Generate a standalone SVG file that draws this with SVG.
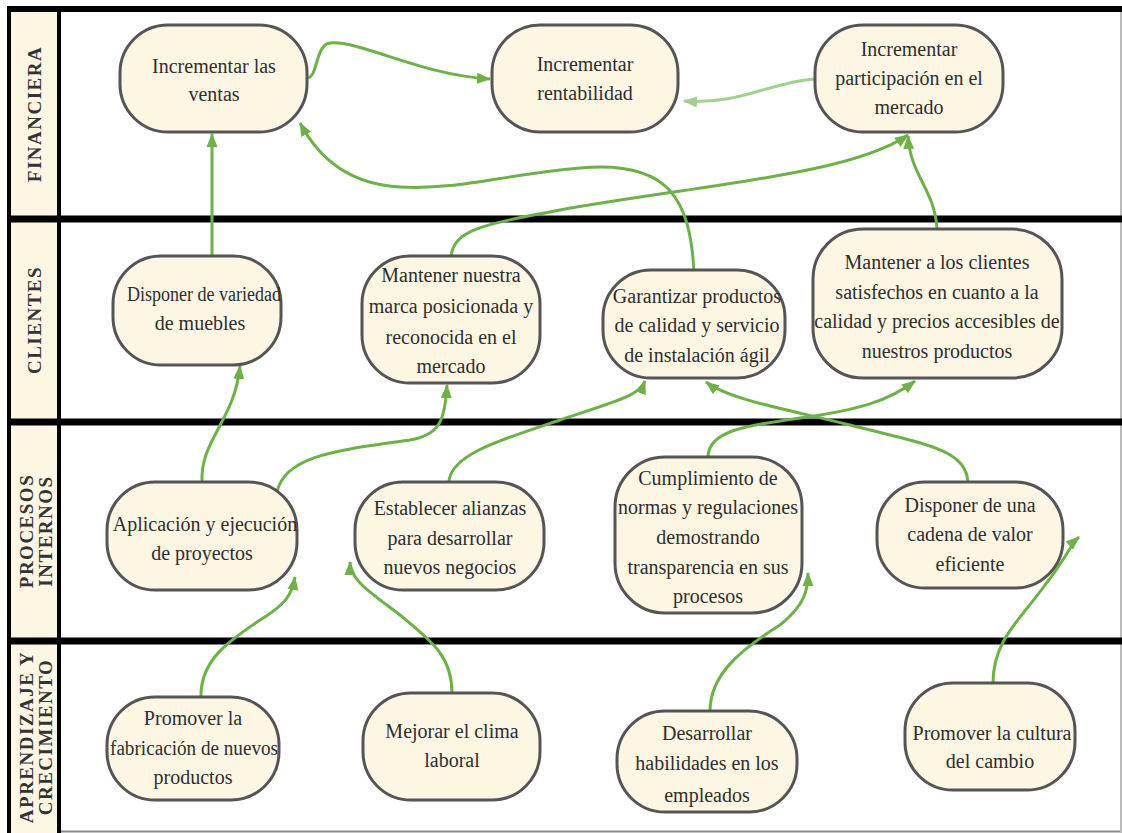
<svg xmlns="http://www.w3.org/2000/svg" width="1122" height="833" viewBox="0 0 1122 833">
<style>
.node rect{fill:#fcf6e3;stroke:#555;stroke-width:3}
.node text{font-family:"Liberation Serif",serif;font-size:20px;fill:#2e2e2e;text-anchor:middle}
.lbl{font-family:"Liberation Serif",serif;font-size:19px;font-weight:bold;fill:#333;text-anchor:middle;letter-spacing:1.5px}
.frame{stroke:#000;fill:none}
.c{fill:none;stroke:#6cb245;stroke-width:3}
.cl{fill:none;stroke:#9fd28a;stroke-width:3}
</style>
<defs>
<marker id="ah" markerUnits="userSpaceOnUse" markerWidth="16" markerHeight="14" refX="13" refY="7" orient="auto"><path d="M0,1.5 L14,7 L0,12.5 Z" fill="#6cb245"/></marker>
<marker id="ahl" markerUnits="userSpaceOnUse" markerWidth="16" markerHeight="14" refX="13" refY="7" orient="auto"><path d="M0,1.5 L14,7 L0,12.5 Z" fill="#9fd28a"/></marker>
</defs>
<rect x="0" y="0" width="1122" height="833" fill="#fff"/>
<g id="frame">
<rect x="10" y="9" width="49" height="824" fill="#fdf6e3"/>
<line x1="59" y1="831.5" x2="1122" y2="831.5" stroke="#888" stroke-width="2"/>
<line x1="1121" y1="9" x2="1121" y2="833" stroke="#bbb" stroke-width="2"/>
<line class="frame" x1="7" y1="9" x2="1122" y2="9" stroke-width="6"/>
<line class="frame" x1="9" y1="6" x2="9" y2="833" stroke-width="4"/>
<line class="frame" x1="59" y1="6" x2="59" y2="833" stroke-width="4"/>
<line class="frame" x1="7" y1="219" x2="1122" y2="219" stroke-width="7"/>
<line class="frame" x1="7" y1="422" x2="1122" y2="422" stroke-width="7"/>
<line class="frame" x1="7" y1="641" x2="1122" y2="641" stroke-width="7"/>
</g>
<g id="lane-labels">
<text class="lbl" transform="translate(41,114) rotate(-90)">FINANCIERA</text>
<text class="lbl" transform="translate(41,320) rotate(-90)">CLIENTES</text>
<text class="lbl" transform="translate(33,531) rotate(-90)">PROCESOS</text>
<text class="lbl" transform="translate(52,531) rotate(-90)">INTERNOS</text>
<text class="lbl" transform="translate(33,737) rotate(-90)">APRENDIZAJE Y</text>
<text class="lbl" transform="translate(52,737) rotate(-90)">CRECIMIENTO</text>
</g>
<g id="connectors">
<path class="c" marker-end="url(#ah)" d="M307,78 C318,78 315,45 330,43 C360,40 420,75 490,79"/>
<path class="cl" marker-end="url(#ahl)" d="M815,79 C770,82 740,105 684,101"/>
<path class="c" marker-end="url(#ah)" d="M694,272 C690,200 670,160 580,168 C500,175 460,190 400,187 C350,184 320,160 300,123"/>
<path class="c" marker-end="url(#ah)" d="M451,256 C455,230 480,225 560,210 C700,185 850,175 908,135"/>
<path class="c" marker-end="url(#ah)" d="M937,229 C935,190 910,175 908,136"/>
<path class="c" marker-end="url(#ah)" d="M212,256 L212,134"/>
<path class="c" marker-end="url(#ah)" d="M202,482 C200,440 235,420 240,366"/>
<path class="c" marker-end="url(#ah)" d="M277,492 C285,455 340,450 410,440 C440,435 445,420 447,385"/>
<path class="c" marker-end="url(#ah)" d="M449,482 C450,455 500,440 560,420 C620,400 640,395 645,381"/>
<path class="c" marker-end="url(#ah)" d="M708,457 C708,430 750,425 800,418 C860,410 890,400 915,381"/>
<path class="c" marker-end="url(#ah)" d="M968,482 C965,450 930,445 850,425 C790,410 730,400 706,382"/>
<path class="c" marker-end="url(#ah)" d="M201,697 C200,660 230,640 260,620 C285,605 292,595 295,577"/>
<path class="c" marker-end="url(#ah)" d="M452,693 C452,655 430,640 400,615 C370,592 350,580 350,562"/>
<path class="c" marker-end="url(#ah)" d="M710,711 C710,675 740,650 780,625 C805,605 808,590 808,573"/>
<path class="c" marker-end="url(#ah)" d="M993,683 C993,640 1020,620 1045,585 C1065,560 1070,545 1079,537"/>
</g>
<g id="n-ventas" class="node"><rect x="120" y="25" width="187" height="107" rx="48"/><text x="214" y="73">Incrementar las</text><text x="214" y="101">ventas</text></g>
<g id="n-rentabilidad" class="node"><rect x="492" y="25" width="186" height="107" rx="48"/><text x="585" y="71">Incrementar</text><text x="585" y="100">rentabilidad</text></g>
<g id="n-participacion" class="node"><rect x="815" y="25" width="188" height="107" rx="48"/><text x="909" y="56">Incrementar</text><text x="909" y="85">participación en el</text><text x="909" y="114">mercado</text></g>
<g id="n-variedad" class="node"><rect x="113" y="256" width="168" height="109" rx="48"/><text x="204" y="301" textLength="154" lengthAdjust="spacingAndGlyphs">Disponer de variedad</text><text x="200" y="330">de muebles</text></g>
<g id="n-marca" class="node"><rect x="362" y="256" width="178" height="127" rx="48"/><text x="451" y="282">Mantener nuestra</text><text x="451" y="313">marca posicionada y</text><text x="451" y="344">reconocida en el</text><text x="451" y="373">mercado</text></g>
<g id="n-garantizar" class="node"><rect x="603" y="270" width="182" height="108" rx="48"/><text x="697" y="303">Garantizar productos</text><text x="697" y="332">de calidad y servicio</text><text x="697" y="362">de instalación ágil</text></g>
<g id="n-satisfechos" class="node"><rect x="813" y="229" width="249" height="149" rx="50"/><text x="937" y="269">Mantener a los clientes</text><text x="937" y="299">satisfechos en cuanto a la</text><text x="937" y="328">calidad y precios accesibles de</text><text x="937" y="358">nuestros productos</text></g>
<g id="n-aplicacion" class="node"><rect x="107" y="482" width="190" height="108" rx="48"/><text x="205" y="531">Aplicación y ejecución</text><text x="202" y="560">de proyectos</text></g>
<g id="n-alianzas" class="node"><rect x="355" y="482" width="189" height="108" rx="48"/><text x="450" y="515">Establecer alianzas</text><text x="450" y="545">para desarrollar</text><text x="450" y="574">nuevos negocios</text></g>
<g id="n-cumplimiento" class="node"><rect x="615" y="457" width="187" height="156" rx="50"/><text x="708" y="485">Cumplimiento de</text><text x="708" y="514">normas y regulaciones</text><text x="708" y="544">demostrando</text><text x="708" y="574">transparencia en sus</text><text x="708" y="603">procesos</text></g>
<g id="n-cadena" class="node"><rect x="877" y="482" width="186" height="106" rx="48"/><text x="970" y="512">Disponer de una</text><text x="970" y="541">cadena de valor</text><text x="970" y="571">eficiente</text></g>
<g id="n-promover" class="node"><rect x="107" y="697" width="172" height="103" rx="48"/><text x="193" y="725">Promover la</text><text x="194" y="755" textLength="168" lengthAdjust="spacingAndGlyphs">fabricación de nuevos</text><text x="193" y="784">productos</text></g>
<g id="n-clima" class="node"><rect x="363" y="693" width="177" height="107" rx="48"/><text x="452" y="738">Mejorar el clima</text><text x="452" y="767">laboral</text></g>
<g id="n-habilidades" class="node"><rect x="617" y="711" width="180" height="101" rx="48"/><text x="707" y="740">Desarrollar</text><text x="707" y="770">habilidades en los</text><text x="707" y="802">empleados</text></g>
<g id="n-cultura" class="node"><rect x="905" y="683" width="170" height="107" rx="48"/><text x="992" y="740">Promover la cultura</text><text x="990" y="768">del cambio</text></g>
</svg>
